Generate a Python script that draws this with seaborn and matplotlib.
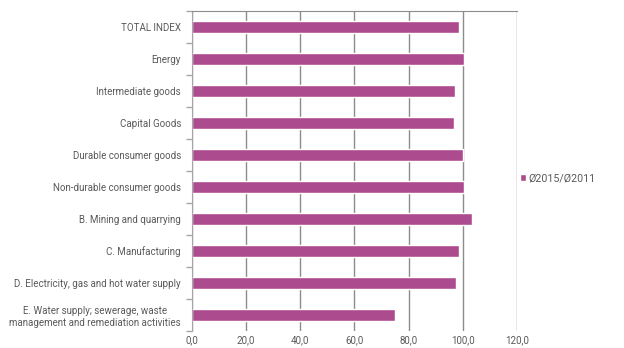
import seaborn as sns
import matplotlib.pyplot as plt
import matplotlib.ticker as mticker
import pandas as pd
import numpy as np

# Categories and values (Ø2015/Ø2011)
categories = [
    'TOTAL INDEX',
    'Energy',
    'Intermediate goods',
    'Capital Goods',
    'Durable consumer goods',
    'Non-durable consumer goods',
    'B. Mining and quarrying',
    'C. Manufacturing',
    'D. Electricity, gas and hot water supply',
    'E. Water supply; sewerage, waste\nmanagement and remediation activities',
]
values = [98.5, 100.6, 97.0, 96.8, 100.1, 100.5, 103.3, 98.5, 97.4, 75.0]
series_name = 'Ø2015/Ø2011'
x_ticks = [0, 20, 40, 60, 80, 100, 120]

df = pd.DataFrame({'category': categories, 'value': values, 'series': series_name})

sns.set_style('white')
plt.rcParams['font.family'] = ['Roboto', 'DejaVu Sans']

text_col = '#595959'
bar_col = '#AD4B8F'
grid_col = '#8c8c8c'
fs = 7.0

fig = plt.figure(figsize=(6.24, 3.48), dpi=100)
ax = fig.add_axes([0.3077, 0.049, 0.5208, 0.9195])

sns.barplot(data=df, x='value', y='category', hue='series', orient='h',
            palette=[bar_col], saturation=1, width=0.4, ax=ax, legend=True)

ax.set_xlim(0, 120)
ax.set_xticks(x_ticks)
ax.xaxis.set_major_formatter(mticker.FuncFormatter(lambda v, p: f'{v:.1f}'.replace('.', ',')))
ax.grid(axis='x', color=grid_col, linewidth=1.0)
ax.set_axisbelow(True)

ax.set_xlabel('')
ax.set_ylabel('')
for s in ['right', 'bottom']:
    ax.spines[s].set_visible(False)
ax.spines['top'].set_color(grid_col)
ax.spines['left'].set_color('#a6a6a6')

n = len(categories)
ax.set_yticks(np.arange(-0.5, n, 1.0), minor=True)
ax.tick_params(axis='y', which='minor', length=4, color='#a6a6a6', width=1, left=True)
ax.tick_params(axis='y', which='major', length=0, pad=8, labelsize=fs, labelcolor=text_col)
ax.tick_params(axis='x', which='major', length=0, pad=3, labelsize=fs, labelcolor=text_col)
for lbl in ax.get_yticklabels():
    lbl.set_horizontalalignment('right')
    lbl.set_multialignment('center')

ax.legend(loc='center left', bbox_to_anchor=(0.818, 0.487), bbox_transform=fig.transFigure,
          frameon=False, fontsize=7.7, handlelength=0.6, handleheight=0.6,
          handletextpad=0.15, labelcolor=text_col)

fig.savefig('out.png', dpi=100)
